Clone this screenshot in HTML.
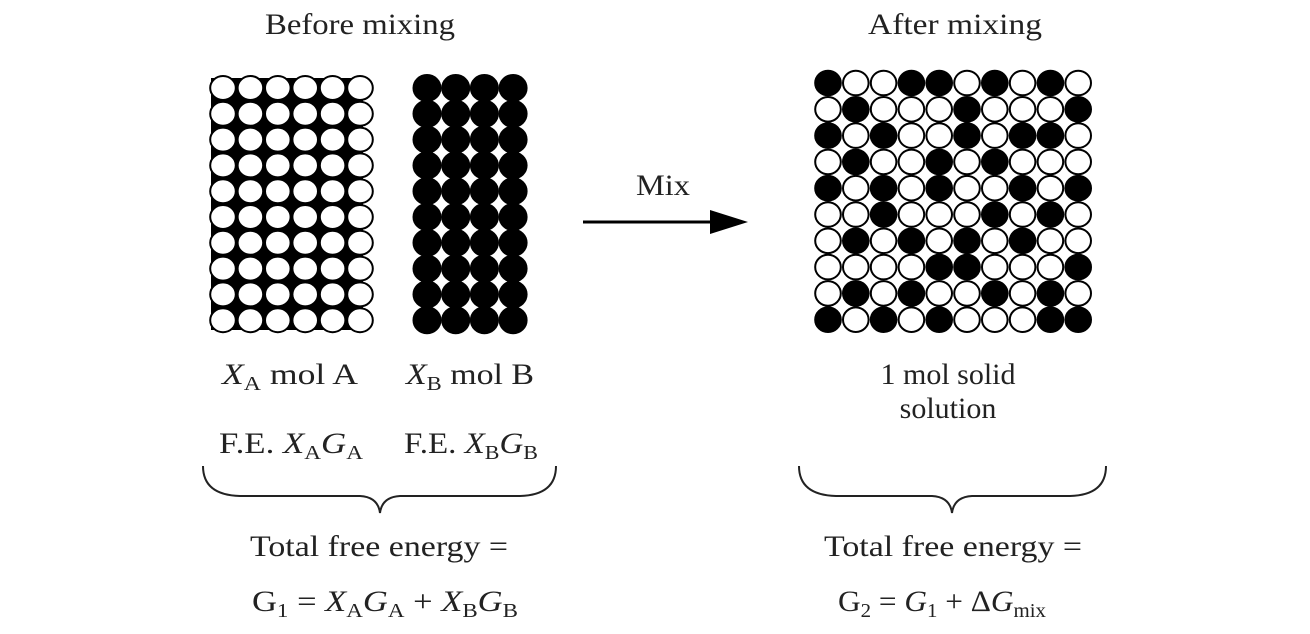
<!DOCTYPE html>
<html><head><meta charset="utf-8"><style>
html,body{margin:0;padding:0;background:#fff;}
svg{display:block;}
text{font-family:"Liberation Serif",serif;font-size:30px;fill:#222;}
.i{font-style:italic;}
</style></head><body>
<svg width="1310" height="634" viewBox="0 0 1310 634" xmlns="http://www.w3.org/2000/svg">
<text x="265" y="34" textLength="190" lengthAdjust="spacingAndGlyphs">Before mixing</text>
<text x="868" y="34" textLength="174" lengthAdjust="spacingAndGlyphs">After mixing</text>
<rect x="211" y="78" width="152" height="252" fill="#000"/>
<g id="L"></g><g id="B"></g><g id="M"></g>
<line x1="583" y1="222" x2="715" y2="222" stroke="#000" stroke-width="3"/>
<polygon points="748,222 710,210 710,234" fill="#000"/>
<text x="636" y="195" textLength="54" lengthAdjust="spacingAndGlyphs">Mix</text>
<text x="222" y="384" textLength="136" lengthAdjust="spacingAndGlyphs"><tspan class="i">X</tspan><tspan font-size="20" dy="6">A</tspan><tspan dy="-6"> mol A</tspan></text>
<text x="406" y="384" textLength="128" lengthAdjust="spacingAndGlyphs"><tspan class="i">X</tspan><tspan font-size="20" dy="6">B</tspan><tspan dy="-6"> mol B</tspan></text>
<text x="219" y="453" textLength="144" lengthAdjust="spacingAndGlyphs">F.E. <tspan class="i">X</tspan><tspan font-size="20" dy="6">A</tspan><tspan dy="-6" class="i">G</tspan><tspan font-size="20" dy="6">A</tspan></text>
<text x="404" y="453" textLength="134" lengthAdjust="spacingAndGlyphs">F.E. <tspan class="i">X</tspan><tspan font-size="20" dy="6">B</tspan><tspan dy="-6" class="i">G</tspan><tspan font-size="20" dy="6">B</tspan></text>
<text x="948" y="384" text-anchor="middle">1 mol solid</text>
<text x="948" y="418" text-anchor="middle">solution</text>
<path d="M203,466 Q203,495 240,496 L360,496 Q378,497 380,513 Q382,497 400,496 L520,496 Q556,495 556,466" fill="none" stroke="#222" stroke-width="2"/>
<path d="M799,466 Q799,495 836,496 L932,496 Q950,497 952,513 Q954,497 972,496 L1070,496 Q1106,495 1106,466" fill="none" stroke="#222" stroke-width="2"/>
<text x="250" y="556" textLength="258" lengthAdjust="spacingAndGlyphs">Total free energy =</text>
<text x="252" y="611" textLength="266" lengthAdjust="spacingAndGlyphs">G<tspan font-size="20" dy="6">1</tspan><tspan dy="-6"> = </tspan><tspan class="i">X</tspan><tspan font-size="20" dy="6">A</tspan><tspan dy="-6" class="i">G</tspan><tspan font-size="20" dy="6">A</tspan><tspan dy="-6"> + </tspan><tspan class="i">X</tspan><tspan font-size="20" dy="6">B</tspan><tspan dy="-6" class="i">G</tspan><tspan font-size="20" dy="6">B</tspan></text>
<text x="824" y="556" textLength="258" lengthAdjust="spacingAndGlyphs">Total free energy =</text>
<text x="838" y="611" textLength="208" lengthAdjust="spacingAndGlyphs">G<tspan font-size="20" dy="6">2</tspan><tspan dy="-6"> = </tspan><tspan class="i">G</tspan><tspan font-size="20" dy="6">1</tspan><tspan dy="-6"> + Δ</tspan><tspan class="i">G</tspan><tspan font-size="20" dy="6">mix</tspan></text>
<script>
var ns="http://www.w3.org/2000/svg";
function c(g,x,y,rx,ry,f){var e=document.createElementNS(ns,"ellipse");e.setAttribute("cx",x);e.setAttribute("cy",y);e.setAttribute("rx",rx);e.setAttribute("ry",ry);e.setAttribute("fill",f?"#000":"#fff");e.setAttribute("stroke","#000");e.setAttribute("stroke-width","2");document.getElementById(g).appendChild(e);}
for(var r=0;r<10;r++)for(var k=0;k<6;k++)c("L",223+k*27.4,88+r*25.8,12.8,12,0);
for(var r=0;r<10;r++)for(var k=0;k<4;k++)c("B",427+k*28.7,88+r*25.8,13.5,13,1);
var P=["1001101010","0100010001","1010010110","0100101000","1010100101","0010001010","0101010100","0000110001","0101001010","1010100011"];
for(var r=0;r<10;r++)for(var k=0;k<10;k++)c("M",828+k*27.8,83+r*26.3,12.8,12.3,P[r][k]=="1");
</script>
</svg>
</body></html>
